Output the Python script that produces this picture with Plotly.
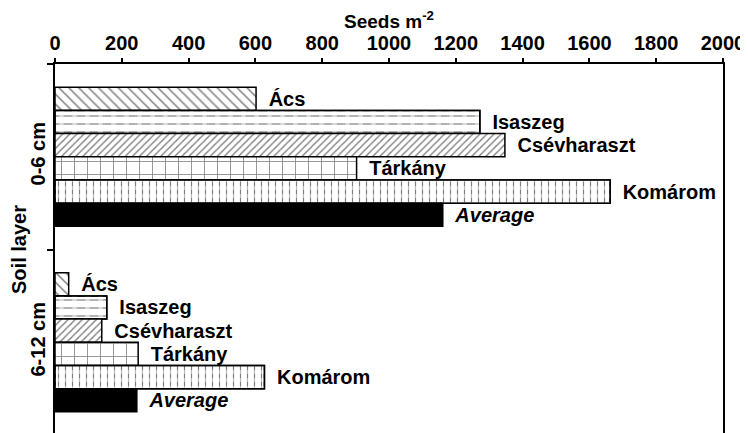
import plotly.graph_objects as go

layers = ["0-6 cm", "6-12 cm"]
sites = ["Ács", "Isaszeg", "Csévharaszt", "Tárkány", "Komárom", "Average"]
seeds = {
    "Ács": [602, 41],
    "Isaszeg": [1272, 155],
    "Csévharaszt": [1347, 140],
    "Tárkány": [903, 249],
    "Komárom": [1662, 627],
    "Average": [1161, 245],
}
x_ticks = list(range(0, 2001, 200))

# base pattern and optional white "breaker" pattern drawn on top (to make dashes)
patterns = {
    "Ács": (dict(shape="\\", size=7, solidity=0.22), None),
    "Isaszeg": (dict(shape="-", size=8, solidity=0.15), dict(shape="|", size=13, solidity=0.35)),
    "Csévharaszt": (dict(shape="/", size=5, solidity=0.28), None),
    "Tárkány": (dict(shape="+", size=13, solidity=0.12), None),
    "Komárom": (dict(shape="|", size=7, solidity=0.17), dict(shape="-", size=8, solidity=0.45)),
}

FONT = "Liberation Sans, Arial, sans-serif"
GAP = "\u00a0\u2009"
GROUP = 0.75
W = GROUP / len(sites)

fig = go.Figure()
for i, s in enumerate(sites):
    off = -GROUP / 2 + i * W
    label = GAP + ("<i>%s</i>" % s if s == "Average" else s)
    line = dict(color="black", width=1.5)
    if s == "Average":
        marker = dict(color="black", line=line)
        brk = None
    else:
        p, brk = patterns[s]
        marker = dict(color="white", line=line,
                      pattern=dict(shape=p["shape"], size=p["size"], solidity=p["solidity"],
                                   fgcolor="black", bgcolor="white", fillmode="overlay"))
    fig.add_trace(go.Bar(
        y=layers, x=seeds[s], orientation="h", name=s,
        width=W, offset=off, marker=marker,
        text=[label] * len(layers), textposition="outside",
        constraintext="none", cliponaxis=False,
        outsidetextfont=dict(family=FONT, size=20, color="black", weight="bold"),
    ))
    if brk is not None:
        fig.add_trace(go.Bar(
            y=layers, x=seeds[s], orientation="h", name=s + " dashes",
            width=W, offset=off, hoverinfo="skip",
            marker=dict(color="rgba(0,0,0,0)", line=line,
                        pattern=dict(shape=brk["shape"], size=brk["size"], solidity=brk["solidity"],
                                     fgcolor="white", bgcolor="rgba(0,0,0,0)", fillmode="overlay")),
        ))

# the page body has a small default margin, so the figure is shrunk to fit the window
fig.update_layout(
    width=740, height=427,
    margin=dict(l=47, r=25, t=56, b=0),
    paper_bgcolor="white", plot_bgcolor="white",
    barmode="overlay",
    showlegend=False,
    font=dict(family=FONT, size=20, color="black", weight="bold"),
    xaxis=dict(
        side="top", range=[0, 2000], tickvals=x_ticks, automargin=False,
        ticks="outside", ticklen=4, tickwidth=1.5, tickcolor="black",
        showline=True, linecolor="black", linewidth=2, mirror=True,
        showgrid=False, zeroline=False,
        tickfont=dict(family=FONT, size=20, weight="bold"),
        title=dict(text="Seeds m<sup>-2</sup>", font=dict(family=FONT, size=19, weight="bold"), standoff=6),
    ),
    yaxis=dict(
        categoryorder="array", categoryarray=layers, autorange="reversed",
        range=[1.5, -0.5], automargin=False,
        tickson="boundaries", ticks="outside", ticklen=6, tickwidth=1.5, tickcolor="black",
        showline=True, linecolor="black", linewidth=2, mirror=True,
        showgrid=False, zeroline=False, tickangle=-90,
        tickfont=dict(family=FONT, size=20, weight="bold"),
        title=dict(text="Soil layer", font=dict(family=FONT, size=20, weight="bold"), standoff=4),
    ),
)

fig.write_html("out.html")
